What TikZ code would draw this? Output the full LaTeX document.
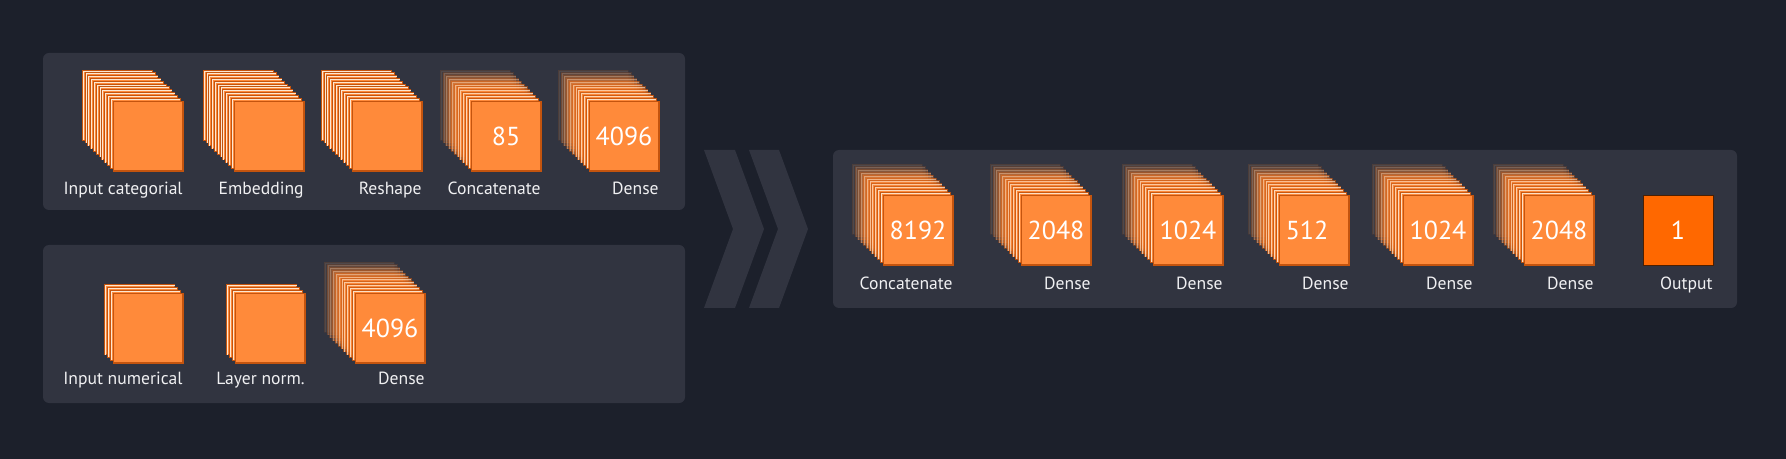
\documentclass[tikz,border=0pt]{standalone}
\usepackage{fontspec}
\setmainfont{PT Sans}
\usetikzlibrary{positioning}

\definecolor{bgnavy}{RGB}{28,32,43}
\definecolor{panelgray}{RGB}{49,52,64}
\definecolor{lorange}{RGB}{255,138,58}
\definecolor{dkorange}{RGB}{196,84,14}
\definecolor{outorange}{RGB}{255,104,0}
\definecolor{cream}{RGB}{252,232,210}
\definecolor{lbltext}{RGB}{240,240,242}

\tikzset{
  panel/.style={fill=panelgray, rounded corners=3pt},
  chevron/.style={fill=panelgray},
  layer/.style={fill=lorange, draw=dkorange, line width=0.5pt},
  sq/.style={fill=lorange, draw=dkorange, line width=0.4pt, minimum size=35pt,
    inner sep=0pt, outer sep=0pt, text=white, font=\fontsize{13}{15}\selectfont},
  outsq/.style={sq, fill=outorange, draw=black!70!outorange},
  lbl/.style={anchor=base east, inner sep=0pt, text=lbltext,
    font=\fontsize{8.8}{10}\selectfont}
}

\newcommand{\lstep}{2.8}
% stack of layers: name, top-left of front square (px), layers behind, fade (0/1), number
\newcommand{\layerstack}[6]{%
  \foreach \k in {#4,...,1}{%
    \ifnum#5=1 \pgfmathsetmacro{\op}{1-\k/(#4+1)}\else \def\op{1}\fi
    \begin{scope}[opacity=\op]
      \filldraw[layer] ({#2-\k*\lstep},{#3-\k*\lstep}) rectangle ++(70,70);
      \draw[cream, line width=0.5pt] ({#2-\k*\lstep+1},{#3-\k*\lstep+70})
        |- ({#2-\k*\lstep+70},{#3-\k*\lstep+1});
    \end{scope}
  }
  \node[sq] (#1) at ({#2+35},{#3+35}) {#6};
  \draw[dkorange, line width=1pt] (#1.north east) -- (#1.south east) -- (#1.south west);
}

\begin{document}
\begin{tikzpicture}[x=0.5pt, y=-0.5pt]
  \useasboundingbox (0,0) rectangle (1786,459);
  \fill[bgnavy] (0,0) rectangle (1786,459);

  % Panels
  \fill[panel] (43,53) rectangle (685,210);
  \fill[panel] (43,245) rectangle (685,403);
  \fill[panel] (833,150) rectangle (1737,308);

  % Chevrons between the branches and the head
  \fill[chevron] (704,150) -- (735,150) -- (764,229) -- (735,308) -- (704,308) -- (733,229) -- cycle;
  \fill[chevron] (749,150) -- (779,150) -- (808,229) -- (779,308) -- (749,308) -- (778,229) -- cycle;

  % Categorial branch
  \layerstack{incat}{113}{101}{11}{0}{}
  \layerstack{embed}{234}{101}{11}{0}{}
  \layerstack{reshape}{352}{101}{11}{0}{}
  \layerstack{concatA}{471}{101}{11}{1}{85}
  \layerstack{denseA}{589}{101}{11}{1}{4096}
  \node[lbl] (incat-l) at ([shift={(0,24)}]incat.south east) {Input categorial};
  \node[lbl] (embed-l) at ([shift={(0,24)}]embed.south east) {Embedding};
  \node[lbl] (reshape-l) at ([shift={(0,24)}]reshape.south east) {Reshape};
  \node[lbl] (concatA-l) at ([shift={(0,24)}]concatA.south east) {Concatenate};
  \node[lbl] (denseA-l) at ([shift={(0,24)}]denseA.south east) {Dense};

  % Numerical branch
  \layerstack{innum}{113}{293}{3}{0}{}
  \layerstack{lnorm}{235}{293}{3}{0}{}
  \layerstack{denseB}{355}{293}{11}{1}{4096}
  \node[lbl] (innum-l) at ([shift={(0,21)}]innum.south east) {Input numerical};
  \node[lbl] (lnorm-l) at ([shift={(0,21)}]lnorm.south east) {Layer norm.};
  \node[lbl] (denseB-l) at ([shift={(0,21)}]denseB.south east) {Dense};

  % Head
  \layerstack{concatC}{883}{195}{11}{1}{8192}
  \layerstack{denseC}{1021}{195}{11}{1}{2048}
  \layerstack{denseD}{1153}{195}{11}{1}{1024}
  \layerstack{denseE}{1279}{195}{11}{1}{\hspace*{-7pt}512}
  \layerstack{denseF}{1403}{195}{11}{1}{1024}
  \layerstack{denseG}{1524}{195}{11}{1}{2048}
  \node[outsq] (out) at (1678,230) {1};
  \node[lbl] (concatC-l) at ([shift={(0,25)}]concatC.south east) {Concatenate};
  \node[lbl] (denseC-l) at ([shift={(0,25)}]denseC.south east) {Dense};
  \node[lbl] (denseD-l) at ([shift={(0,25)}]denseD.south east) {Dense};
  \node[lbl] (denseE-l) at ([shift={(0,25)}]denseE.south east) {Dense};
  \node[lbl] (denseF-l) at ([shift={(0,25)}]denseF.south east) {Dense};
  \node[lbl] (denseG-l) at ([shift={(0,25)}]denseG.south east) {Dense};
  \node[lbl] (out-l) at ([shift={(0,25)}]out.south east) {Output};
\end{tikzpicture}
\end{document}
